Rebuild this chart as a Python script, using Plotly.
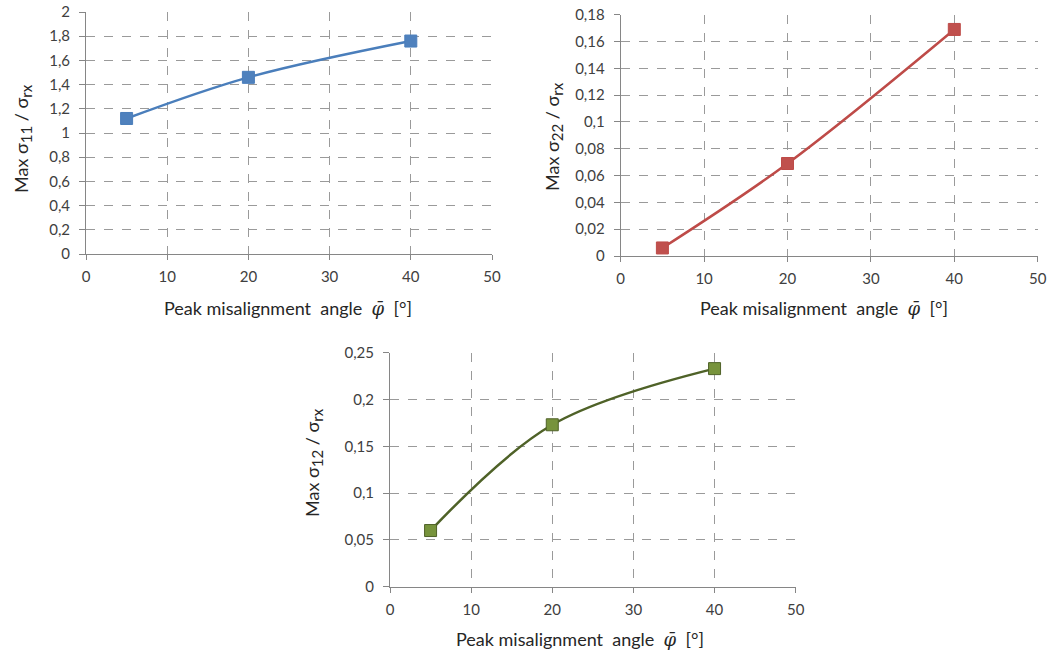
import plotly.graph_objects as go

angles = [5, 20, 40]
s11 = [1.12, 1.46, 1.76]
s22 = [0.006, 0.069, 0.169]
s12 = [0.06, 0.173, 0.233]

x_ticks = [0, 10, 20, 30, 40, 50]
y1_ticks = [0, 0.2, 0.4, 0.6, 0.8, 1, 1.2, 1.4, 1.6, 1.8, 2]
y1_labels = ["0", "0,2", "0,4", "0,6", "0,8", "1", "1,2", "1,4", "1,6", "1,8", "2"]
y2_ticks = [0, 0.02, 0.04, 0.06, 0.08, 0.1, 0.12, 0.14, 0.16, 0.18]
y2_labels = ["0", "0,02", "0,04", "0,06", "0,08", "0,1", "0,12", "0,14", "0,16", "0,18"]
y3_ticks = [0, 0.05, 0.1, 0.15, 0.2, 0.25]
y3_labels = ["0", "0,05", "0,1", "0,15", "0,2", "0,25"]

x_title = ("Peak misalignment  angle  "
           "<span style=\"font-family:'DejaVu Serif'\"><i>\u03c6\u0304</i></span>  [°]")
SUB = "<sub><span style=\"font-size:15px\">{}</span></sub>"
y_titles = ["Max \u03c3" + SUB.format("11") + " / \u03c3" + SUB.format("rx"),
            "Max \u03c3" + SUB.format("22") + " / \u03c3" + SUB.format("rx"),
            "Max \u03c3" + SUB.format("12") + " / \u03c3" + SUB.format("rx")]

FONT = "Lato, 'Open Sans', sans-serif"
W, H = 1059, 655


def px(x):
    return x / W


def py(y):
    return 1 - y / H


fig = go.Figure()

series = [
    (s11, "x", "y", "#4A7EBB", "#4F81BD", "#4A7EBB"),
    (s22, "x2", "y2", "#BE4B48", "#C0504D", "#BE4B48"),
    (s12, "x3", "y3", "#4F6228", "#77933C", "#4F6228"),
]
for vals, xa, ya, lc, mc, mlc in series:
    fig.add_trace(go.Scatter(
        x=angles, y=vals, xaxis=xa, yaxis=ya, mode="lines+markers",
        line=dict(color=lc, width=2.5, shape="spline", smoothing=1),
        marker=dict(symbol="square", size=12, color=mc, line=dict(color=mlc, width=1)),
        showlegend=False, cliponaxis=False))


def xaxis(x0, x1, anchor):
    return dict(domain=[px(x0), px(x1)], anchor=anchor, range=[0, 50], tickvals=x_ticks,
                showline=True, linecolor="#868686", linewidth=1, automargin=False,
                ticks="outside", ticklen=5, tickcolor="#868686", ticklabelstandoff=4,
                showgrid=True, gridcolor="#9A9A9A", griddash="dash", gridwidth=1,
                zeroline=False, tickfont=dict(family=FONT, size=15, color="#404040"))


def yaxis(y0, y1, anchor, rng, tv, tt):
    return dict(domain=[py(y1), py(y0)], anchor=anchor, range=rng, tickvals=tv, ticktext=tt,
                showline=True, linecolor="#868686", linewidth=1, automargin=False,
                ticks="outside", ticklen=6, tickcolor="#868686", ticklabelstandoff=6,
                showgrid=True, gridcolor="#9A9A9A", griddash="dash", gridwidth=1,
                zeroline=False, tickfont=dict(family=FONT, size=15, color="#404040"))


tfont = dict(family=FONT, size=18, color="#262626")
annotations = [
    dict(text=x_title, x=px(288), y=py(308), xref="paper", yref="paper",
         xanchor="center", yanchor="middle", showarrow=False, font=tfont),
    dict(text=x_title, x=px(824), y=py(308), xref="paper", yref="paper",
         xanchor="center", yanchor="middle", showarrow=False, font=tfont),
    dict(text=x_title, x=px(580), y=py(639), xref="paper", yref="paper",
         xanchor="center", yanchor="middle", showarrow=False, font=tfont),
    dict(text=y_titles[0], x=px(22), y=py(139), xref="paper", yref="paper", textangle=-90,
         xanchor="center", yanchor="middle", showarrow=False, font=tfont),
    dict(text=y_titles[1], x=px(553), y=py(137), xref="paper", yref="paper", textangle=-90,
         xanchor="center", yanchor="middle", showarrow=False, font=tfont),
    dict(text=y_titles[2], x=px(313), y=py(463), xref="paper", yref="paper", textangle=-90,
         xanchor="center", yanchor="middle", showarrow=False, font=tfont),
]

fig.update_layout(
    width=W, height=H,
    margin=dict(l=0, r=0, t=0, b=0, autoexpand=False),
    paper_bgcolor="white", plot_bgcolor="white",
    font=dict(family=FONT),
    xaxis=xaxis(86, 492, "y"),
    yaxis=yaxis(12, 254, "x", [0, 2], y1_ticks, y1_labels),
    xaxis2=xaxis(620.7, 1037.7, "y2"),
    yaxis2=yaxis(14.7, 256, "x2", [0, 0.18], y2_ticks, y2_labels),
    xaxis3=xaxis(390, 795.7, "y3"),
    yaxis3=yaxis(352.7, 586.7, "x3", [0, 0.25], y3_ticks, y3_labels),
    annotations=annotations,
)

fig.write_html("out.html")
